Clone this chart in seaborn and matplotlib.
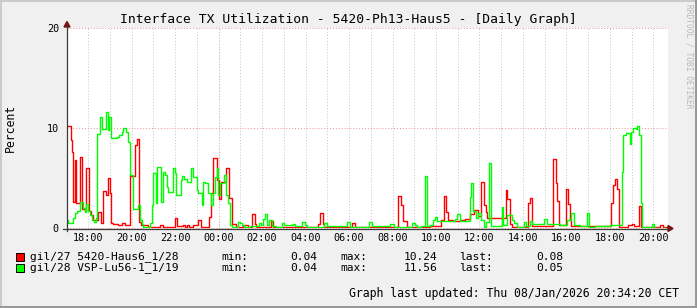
import matplotlib
matplotlib.use("Agg")
import matplotlib.pyplot as plt
import matplotlib.dates as mdates
from matplotlib.lines import Line2D
from matplotlib.patches import Polygon, Rectangle
import pandas as pd
import seaborn as sns

# ---------------- data (minutes after 2026-01-07 17:00, value in %) ----------------
start_time = "2026-01-07 17:00"
graph_start_min = 1.2
graph_end_min = 1660.6

red_name = "gil/27 5420-Haus6_1/28"
red_min = [1, 11, 15, 18, 22, 27, 38, 43, 50, 54, 61, 67, 72, 88, 96, 101, 109, 115, 121, 124,
           128, 142, 153, 161, 176, 189, 194, 201, 206, 225, 258, 267, 299, 306, 321, 327, 333,
           339, 350, 364, 370, 394, 400, 404, 414, 422, 426, 440, 449, 457, 468, 488, 500, 512,
           519, 523, 564, 571, 695, 700, 707, 711, 787, 796, 915, 924, 930, 941, 1003, 1035,
           1042, 1047, 1053, 1067, 1086, 1100, 1115, 1124, 1135, 1144, 1152, 1157, 1162, 1212,
           1217, 1225, 1231, 1275, 1280, 1286, 1344, 1350, 1355, 1361, 1378, 1385, 1390, 1394,
           1502, 1509, 1514, 1521, 1526, 1550, 1561, 1567, 1581, 1587, 1638, 1646]
red_val = [10.24, 8.8, 7.6, 2.6, 6.8, 2.5, 7.1, 1.9, 1.7, 6.0, 1.7, 1.3, 0.8, 1.6, 0.5, 3.7, 3.3,
           5.0, 3.5, 0.5, 0.4, 0.3, 0.5, 0.35, 5.2, 8.3, 8.9, 0.6, 0.3, 0.15, 0.35, 0.15, 1.0,
           0.2, 0.3, 0.15, 0.3, 0.15, 0.35, 0.8, 0.15, 1.1, 3.5, 7.0, 4.8, 2.9, 4.6, 6.0, 3.0,
           0.45, 0.1, 0.35, 0.13, 1.4, 0.4, 0.13, 0.7, 0.15, 0.4, 1.5, 0.4, 0.13, 0.55, 0.13,
           3.2, 2.3, 0.73, 0.15, 0.2, 0.8, 3.2, 1.6, 0.8, 0.7, 0.8, 0.95, 1.4, 1.85, 1.2, 4.6,
           2.3, 1.6, 1.05, 3.8, 2.95, 0.4, 0.15, 2.5, 3.0, 0.25, 6.9, 4.5, 2.7, 0.3, 3.87, 2.4,
           0.8, 0.25, 2.55, 4.3, 4.9, 3.9, 0.15, 0.3, 0.4, 0.2, 2.2, 0.15, 0.32, 0.08]

green_name = "gil/28 VSP-Lu56-1_1/19"
green_min = [1, 5, 18, 23, 30, 36, 38, 44, 50, 54, 59, 65, 70, 76, 80, 85, 91, 97, 110, 115, 118,
             124, 139, 145, 152, 157, 163, 170, 175, 184, 198, 203, 207, 212, 230, 235, 239, 247,
             250, 260, 265, 272, 276, 281, 293, 299, 302, 315, 320, 325, 332, 344, 350, 359, 364,
             373, 378, 382, 391, 398, 403, 410, 414, 419, 424, 435, 440, 446, 451, 456, 472, 479,
             484, 490, 506, 532, 537, 542, 548, 554, 560, 566, 578, 596, 601, 624, 631, 650, 658,
             664, 712, 720, 774, 782, 834, 843, 894, 903, 954, 961, 968, 979, 990, 996, 1003,
             1012, 1016, 1024, 1072, 1078, 1085, 1092, 1113, 1117, 1123, 1130, 1136, 1143, 1152,
             1159, 1165, 1171, 1201, 1206, 1217, 1231, 1235, 1244, 1263, 1269, 1280, 1286, 1318,
             1327, 1362, 1382, 1393, 1401, 1418, 1438, 1443, 1459, 1500, 1533, 1537, 1546, 1556,
             1558, 1565, 1571, 1576, 1581, 1586, 1590, 1616, 1622]
green_val = [0.8, 0.55, 1.0, 1.5, 1.7, 2.0, 2.6, 2.0, 1.6, 2.4, 1.7, 1.3, 0.8, 0.65, 1.0, 9.4,
             11.1, 9.9, 11.56, 9.8, 11.1, 9.0, 9.1, 9.3, 9.6, 10.0, 9.6, 8.6, 5.3, 1.9, 2.3, 0.8,
             0.4, 0.15, 0.47, 2.3, 5.5, 2.5, 6.1, 2.6, 5.6, 5.3, 4.1, 3.6, 6.0, 5.5, 3.3, 4.8,
             5.2, 4.9, 4.6, 6.0, 5.1, 3.8, 3.5, 2.3, 4.6, 4.5, 3.5, 2.3, 3.5, 5.1, 6.0, 3.3, 4.5,
             5.3, 3.3, 2.5, 0.3, 0.15, 0.63, 0.53, 0.3, 0.15, 0.23, 0.53, 0.3, 0.9, 1.4, 0.35,
             0.8, 0.25, 0.15, 0.55, 0.3, 0.37, 0.2, 0.63, 0.35, 0.15, 0.47, 0.2, 0.6, 0.15, 0.65,
             0.25, 0.4, 0.15, 0.5, 0.3, 0.07, 0.2, 5.2, 0.2, 0.3, 0.8, 1.07, 0.75, 0.9, 1.4, 0.7,
             0.75, 3.07, 4.47, 1.7, 1.0, 1.5, 0.8, 0.07, 0.6, 6.47, 0.2, 2.1, 0.35, 1.3, 0.8,
             0.47, 0.1, 0.63, 0.2, 0.7, 0.45, 0.9, 0.4, 0.3, 0.8, 1.5, 0.35, 0.25, 1.47, 0.1,
             0.2, 0.3, 5.6, 9.3, 9.5, 8.4, 9.6, 10.0, 9.9, 10.2, 9.3, 2.5, 0.15, 0.4, 0.05]

stats_labels = ["min:", "max:", "last:"]
red_stats = ["0.04", "10.24", "0.08"]
green_stats = ["0.04", "11.56", "0.05"]
y_ticks = [0, 10, 20]
title = "Interface TX Utilization - 5420-Ph13-Haus5 - [Daily Graph]"
ylabel = "Percent"
footer = "Graph last updated: Thu 08/Jan/2026 20:34:20 CET"
watermark = "RRDTOOL / TOBI OETIKER"

# ---------------- build frame ----------------
base = pd.Timestamp(start_time)
t_end = base + pd.to_timedelta(graph_end_min, unit="m")
t_start = base + pd.to_timedelta(graph_start_min, unit="m")

def series_df(name, mins, vals):
    t = list(base + pd.to_timedelta(mins, unit="m")) + [t_end]
    v = list(vals) + [vals[-1]]
    return pd.DataFrame({"time": t, "value": v, "series": name})

df = pd.concat([series_df(red_name, red_min, red_val),
                series_df(green_name, green_min, green_val)], ignore_index=True)

# ---------------- figure ----------------
plt.rcParams["font.family"] = "DejaVu Sans Mono"
W, H = 697, 308
fig = plt.figure(figsize=(W / 100, H / 100), dpi=100, facecolor="#F0F0F0")

def fx(p):
    return p / W

def fy(p):
    return 1 - p / H

X0, X1, Y0, Y1 = 67, 668, 228, 28
ax = fig.add_axes([fx(X0), fy(Y0), (X1 - X0) / W, (Y0 - Y1) / H])
ax.set_facecolor("white")

sns.lineplot(data=df, x="time", y="value", hue="series",
             palette={red_name: "#FF0000", green_name: "#00FF00"},
             drawstyle="steps-post", linewidth=1.0, legend=False, ax=ax,
             estimator=None, sort=True)

ax.set_xlim(t_start, t_end)
ax.set_ylim(0, 20)
for s in ax.spines.values():
    s.set_visible(False)

ax.xaxis.set_major_locator(mdates.HourLocator(byhour=range(0, 24, 2)))
ax.xaxis.set_minor_locator(mdates.HourLocator())
ax.xaxis.set_major_formatter(mdates.DateFormatter("%H:%M"))
ax.set_yticks(y_ticks)
ax.set_yticklabels([str(v) for v in y_ticks])
ax.tick_params(axis="x", which="both", length=0, pad=3.6, labelsize=7.3)
ax.tick_params(axis="y", which="both", length=0, pad=5.8, labelsize=7.3)
ax.set_xlabel("")
ax.set_ylabel("")

grid_grey = "#C4C4C4"
grid_red = "#F09090"
ax.set_axisbelow(True)
ax.grid(axis="x", which="both", color=grid_grey, linestyle=(0, (1, 2)), linewidth=0.7)
ax.grid(axis="y", which="major", color=grid_red, linestyle=(0, (1, 2)), linewidth=0.7)
for gl in ax.get_ygridlines():
    gl.set_clip_on(False)
ax.axvline(pd.Timestamp("2026-01-08 00:00"), color=grid_red, linestyle=(0, (1, 2)),
           linewidth=0.7, zorder=0.5)

# axis lines and arrows
axis_col = "#3A3A3A"
arrow_col = "#7A1010"
fig.add_artist(Line2D([fx(63), fx(669)], [fy(228.5), fy(228.5)], color=axis_col, lw=0.9))
fig.add_artist(Line2D([fx(67), fx(67)], [fy(231), fy(26)], color=axis_col, lw=0.9))
fig.add_artist(Polygon([[fx(668), fy(225.5)], [fx(668), fy(231.5)], [fx(673), fy(228.5)]],
                       closed=True, transform=fig.transFigure, color=arrow_col))
fig.add_artist(Polygon([[fx(64), fy(27)], [fx(70), fy(27)], [fx(67), fy(21.5)]],
                       closed=True, transform=fig.transFigure, color=arrow_col))

# texts
fig.text(fx(348), fy(19), title, ha="center", va="center", size=9.4, color="black")
fig.text(fx(10), fy(128), ylabel, rotation=90, ha="center", va="center", size=8.3)
fig.text(fx(689), fy(4), watermark, rotation=270, ha="center", va="top", size=5.7,
         color="#B8B8B8")

rows = [(red_name, "#FF0000", red_stats, 257.0), (green_name, "#00FF00", green_stats, 268.0)]
for name, col, stats, yy in rows:
    fig.add_artist(Rectangle((fx(16), fy(yy + 4)), 8 / W, 8 / H, transform=fig.transFigure,
                             facecolor=col, edgecolor="black", linewidth=0.7))
    fig.text(fx(30), fy(yy), name, ha="left", va="center", size=8.1)
    for lab, lx, val, vx in zip(stats_labels, [221, 340, 459], stats, [317, 437, 563]):
        fig.text(fx(lx), fy(yy), lab, ha="left", va="center", size=8.1)
        fig.text(fx(vx), fy(yy), val, ha="right", va="center", size=8.1)

fig.text(fx(679), fy(293), footer, ha="right", va="center", size=8.3)

# 3D frame
lw_frame = 2.9
fig.add_artist(Line2D([0, 1], [1, 1], color="#CBCBCB", lw=lw_frame))
fig.add_artist(Line2D([0, 0], [0, 1], color="#CBCBCB", lw=lw_frame))
fig.add_artist(Line2D([0, 1], [0, 0], color="#999999", lw=lw_frame))
fig.add_artist(Line2D([1, 1], [0, 1], color="#999999", lw=lw_frame))

fig.savefig("out.png", dpi=100, facecolor=fig.get_facecolor())
